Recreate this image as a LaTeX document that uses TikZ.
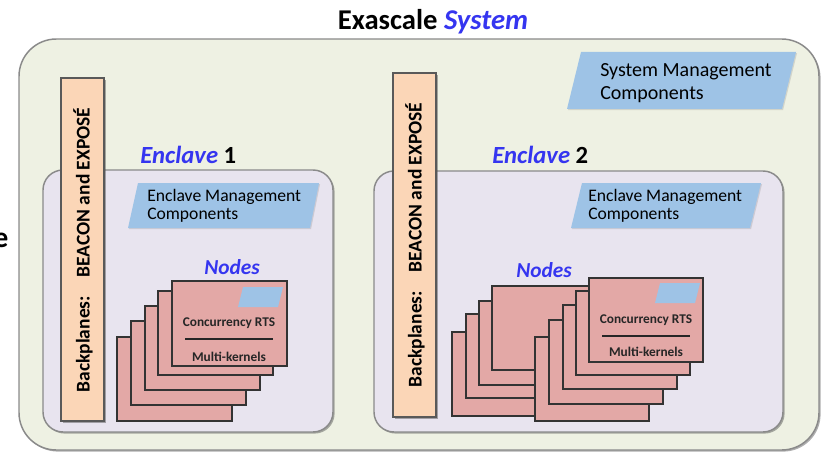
\documentclass[tikz,border=0pt]{standalone}
\usepackage{fontspec}
\setmainfont{Carlito}
\usetikzlibrary{shadows}
\definecolor{outerfill}{HTML}{EEF1E3}
\definecolor{enclfill}{HTML}{E8E4EF}
\definecolor{bpfill}{HTML}{FBD6B7}
\definecolor{mgmtfill}{HTML}{9EC3E6}
\definecolor{cardfill}{HTML}{E3A8A6}
\definecolor{lblblue}{HTML}{3535F0}
\definecolor{edgegray}{HTML}{8A8A8A}
\tikzset{
  shad/.style={drop shadow={shadow xshift=1.2pt,shadow yshift=-1.2pt,opacity=0.45,fill=black!70}},
  outerbox/.style={fill=outerfill,draw=edgegray,line width=1.1pt,rounded corners=28pt,shad},
  enclbox/.style={fill=enclfill,draw=edgegray,line width=1.1pt,rounded corners=15pt,shad},
  bplane/.style={fill=bpfill,draw=black!65,line width=0.8pt,shad},
  mgmt/.style={fill=mgmtfill,drop shadow={shadow xshift=0.8pt,shadow yshift=-0.8pt,opacity=0.25,fill=black!50}},
  card/.style={fill=cardfill,draw=black!80,line width=0.9pt,drop shadow={shadow xshift=0.8pt,shadow yshift=-0.8pt,opacity=0.3,fill=black!60}},
  enclbl/.style={text=lblblue,font=\fontsize{18.5}{20}\selectfont\bfseries\itshape,anchor=west,inner sep=0pt},
  nodeslbl/.style={text=lblblue,font=\fontsize{16}{18}\selectfont\bfseries\itshape,inner sep=0pt},
  cardtxt/.style={font=\fontsize{10}{12}\selectfont\bfseries,text=black!85,inner sep=0pt},
  mgmttxt/.style={align=left,anchor=west,inner sep=0pt},
  bptxt/.style={rotate=90,font=\fontsize{14.6}{16}\selectfont\bfseries,inner sep=0pt}
}
\begin{document}
\begin{tikzpicture}[x=0.75pt,y=-0.75pt]
\useasboundingbox (0,0) rectangle (825,453);
% stray cut-off glyph at left edge
\node[font=\fontsize{22}{24}\selectfont\bfseries,inner sep=0pt] (stray) at (1,240) {e};
% title
\node[font=\fontsize{21.5}{24}\selectfont\bfseries,inner sep=0pt] (title) at (433,22) {Exascale \textcolor{lblblue}{\textit{System}}};
% outer system box
\path[outerbox] (19,39) rectangle (819,450);
% system management
\path[mgmt] (581,52) -- (796,52) -- (782,109) -- (567,109) -- cycle;
\node[mgmttxt,font=\fontsize{15}{17.5}\selectfont] (sysmgmt) at (600,83) {System Management\\Components};

% ---------- Enclave 1 ----------
\path[enclbox] (43,170) rectangle (333,432);
\node[enclbl] (encl1) at (140,155) {Enclave \textcolor{black}{\upshape 1}};
\path[mgmt] (138,183) -- (319,183) -- (310,228) -- (128,228) -- cycle;
\node[mgmttxt,font=\fontsize{13.2}{13.8}\selectfont] (emgmt1) at (147,206) {Enclave Management\\Components};
\draw[bplane] (61,78) rectangle (104,421);
\node[bptxt] (bp1) at (83,250) {Backplanes:\hspace{14pt}BEACON and EXPOSÉ};
\node[nodeslbl] (nodes1) at (232,267) {Nodes};
\foreach \x/\y in {117/337,131/321,145/306,158/291}{
  \draw[card] (\x,\y) rectangle ++(115,84);
}
\draw[card] (172,281) rectangle (287,366);
\path[fill=mgmtfill] (243,287) -- (283,287) -- (278,307) -- (238,307) -- cycle;
\node[cardtxt] (crts1) at (229,323) {Concurrency RTS};
\node[cardtxt] (mk1) at (229,357) {Multi-kernels};
\coordinate (l1a) at (185,339);
\coordinate (l1b) at (273,339);
\draw[line width=1.1pt,black!85] (l1a) -- (l1b);

% ---------- Enclave 2 ----------
\path[enclbox] (374,171) rectangle (783,432);
\node[enclbl] (encl2) at (492,155) {Enclave \textcolor{black}{\upshape 2}};
\path[mgmt] (582,183) -- (761,183) -- (750,228) -- (571,228) -- cycle;
\node[mgmttxt,font=\fontsize{13.2}{13.8}\selectfont] (emgmt2) at (588,206) {Enclave Management\\Components};
\draw[bplane] (393,73) rectangle (436,417);
\node[bptxt] (bp2) at (415,245) {Backplanes:\hspace{14pt}BEACON and EXPOSÉ};
\node[nodeslbl] (nodes2) at (544,270) {Nodes};
\foreach \x/\y in {452/332,466/314,479/301,492/286,535/337,549/320,563/305,576/291}{
  \draw[card] (\x,\y) rectangle ++(114,84);
}
\draw[card] (589,278) rectangle (703,362);
\path[fill=mgmtfill] (660,283) -- (700,283) -- (695,303) -- (655,303) -- cycle;
\node[cardtxt] (crts2) at (646,320) {Concurrency RTS};
\node[cardtxt] (mk2) at (646,352) {Multi-kernels};
\coordinate (l2a) at (602,336);
\coordinate (l2b) at (690,336);
\draw[line width=1.1pt,black!85] (l2a) -- (l2b);
\end{tikzpicture}
\end{document}
